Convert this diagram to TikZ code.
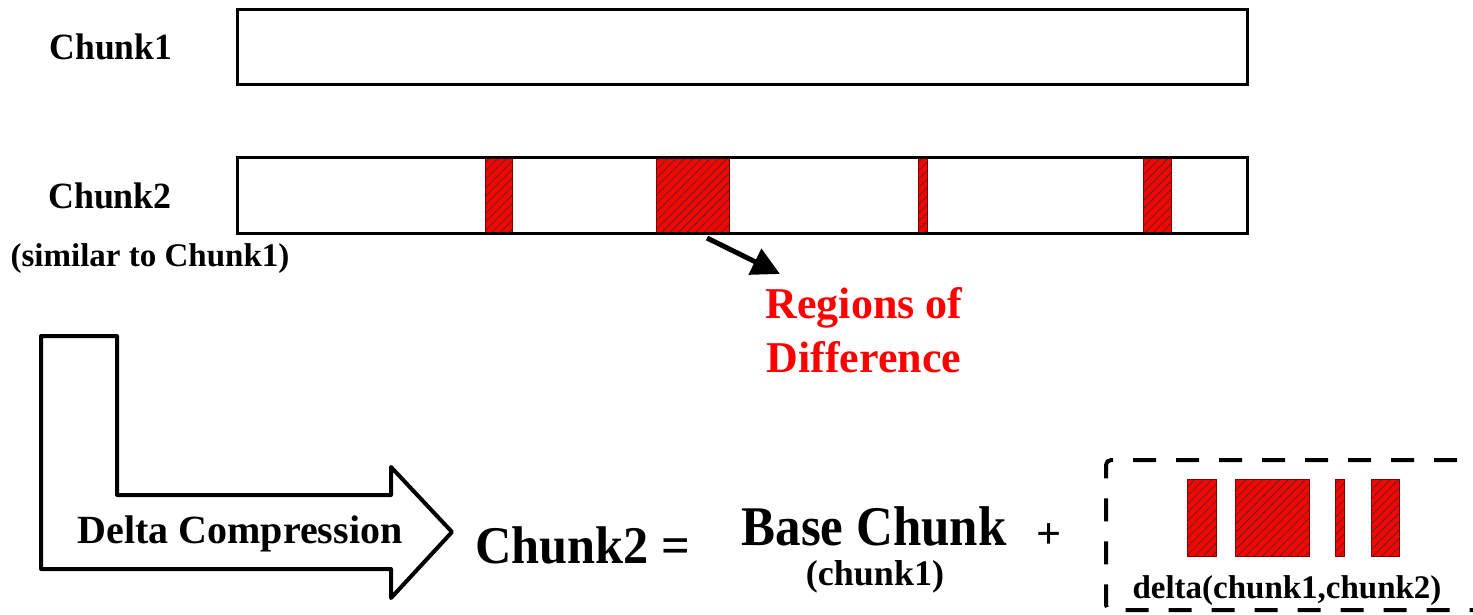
\documentclass[tikz,border=0pt]{standalone}
\usepackage{fontspec}
\setmainfont{Liberation Serif}[BoldFont={Liberation Serif Bold}]
\usetikzlibrary{arrows.meta,patterns.meta}
\tikzset{
  chunkbox/.style={draw=black, line width=3pt},
  diffborder/.style={draw=black!50!red, line width=0.8pt},
  hatch/.style={pattern={Lines[angle=45,distance=6pt,line width=0.75pt]}, pattern color=black!80},
  lbl/.style={inner sep=0pt, anchor=base, font=\bfseries},
  bigarrow/.style={draw=black, line width=4pt, line join=round, fill=white},
  dashbox/.style={draw=black, line width=4pt, dash pattern=on 23pt off 20pt, rounded corners=5pt},
  pointer/.style={line width=5pt, -{Triangle[length=28pt,width=28pt]}},
}
\newcommand\fsz[1]{\fontsize{#1}{#1}\selectfont}
\newcommand\sqz[2]{\scalebox{#1}[1]{#2}}
\newcommand\diffreg[4]{%
  \fill[red] (#1,#2) rectangle (#3,#4);
  \fill[hatch] (#1,#2) rectangle (#3,#4);
  \path[diffborder] (#1,#2) rectangle (#3,#4);}

\begin{document}
\begin{tikzpicture}[x=1pt,y=-1pt]
\useasboundingbox (0,0) rectangle (1473,614);
\fill[white] (0,0) rectangle (1473,614);

% Chunk1
\node[lbl] (c1lbl) at (111,59) {\fsz{37}\sqz{0.96}{Chunk1}};
\path[chunkbox, fill=white] (237,9) rectangle (1247,84);

% Chunk2
\node[lbl] (c2lbl) at (110,208) {\fsz{37}\sqz{0.97}{Chunk2}};
\node[lbl] (c2sim) at (150,266) {\fsz{33}(similar to Chunk1)};
\fill[white] (237,157) rectangle (1247,233);
\diffreg{485}{157}{512}{233}
\diffreg{656}{157}{729}{233}
\diffreg{918}{157}{927}{233}
\diffreg{1143}{157}{1171}{233}
\path[chunkbox] (237,157) rectangle (1247,233);

% pointer to regions of difference
\coordinate (pa) at (707,238);
\coordinate (pb) at (780,274);
\draw[pointer] (pa) -- (pb);
\node[lbl, text=red] (rod1) at (864,318) {\fsz{44}Regions of};
\node[lbl, text=red] (rod2) at (864,372) {\fsz{44}Difference};

% L-shaped arrow
\path[bigarrow] (41,336) -- (117,336) -- (117,495) -- (391,495) -- (391,467)
  -- (452,532) -- (391,598) -- (391,569) -- (41,569) -- cycle;
\node[lbl] (dc) at (240,543) {\fsz{40}Delta Compression};

% equation
\node[lbl, anchor=base west] (eq) at (475,563) {\fsz{53}\sqz{0.95}{Chunk2 =}};
\node[lbl] (base) at (874,545) {\fsz{56}\sqz{0.91}{Base Chunk}};
\node[lbl] (basesub) at (875,585) {\fsz{36}(chunk1)};
\node[lbl] (plus) at (1049,548) {\fsz{44}+};

% delta box
\begin{scope}
\clip (0,0) rectangle (1473,614);
\path[dashbox] (1500,460) -- (1106,460) -- (1106,610) -- (1500,610);
\end{scope}
\diffreg{1187}{479}{1216}{556}
\diffreg{1235}{479}{1309}{556}
\diffreg{1335}{479}{1344}{556}
\diffreg{1371}{479}{1399}{556}
\node[lbl] (delta) at (1287,598) {\fsz{33}delta(chunk1,chunk2)};
\end{tikzpicture}
\end{document}
